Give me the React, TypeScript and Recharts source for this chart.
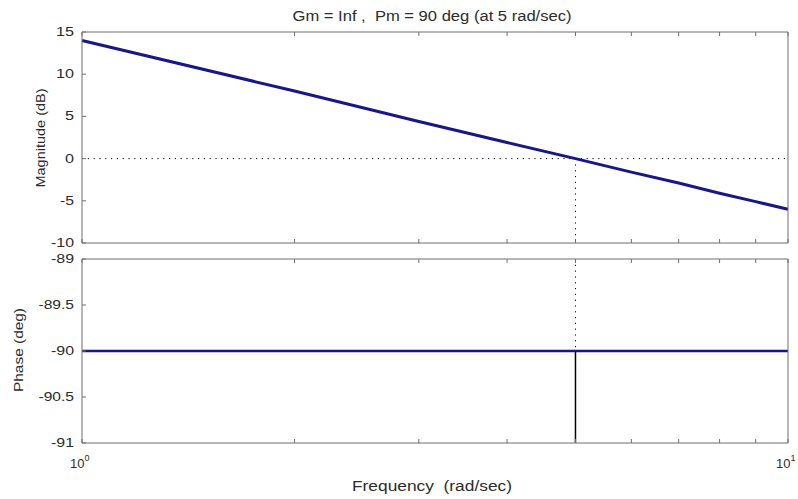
import React from 'react';
import { LineChart, Line, XAxis, YAxis, ReferenceLine } from 'recharts';

// ---- data ----
const frequencies = [1, 2, 3, 4, 5, 6, 7, 8, 9, 10];
const magnitudeDb = [14.0, 8.0, 4.4, 1.9, 0.0, -1.6, -2.9, -4.1, -5.1, -6.0];
const phaseDeg = [-90, -90, -90, -90, -90, -90, -90, -90, -90, -90];
const freqTicks = [1, 2, 3, 4, 5, 6, 7, 8, 9, 10];
const freqTickLabels: Record<number, [string, string]> = { 1: ['10', '0'], 10: ['10', '1'] };
const magTicks = [-10, -5, 0, 5, 10, 15];
const magDomain: [number, number] = [-10, 15];
const phaseTicks = [-91, -90.5, -90, -89.5, -89];
const phaseDomain: [number, number] = [-91, -89];
const crossoverFreq = 5;
const crossoverDb = 0;
const marginPhase = -90;
const titleText = 'Gm = Inf ,  Pm = 90 deg (at 5 rad/sec)';
const xLabelText = 'Frequency  (rad/sec)';
const magLabelText = 'Magnitude (dB)';
const phaseLabelText = 'Phase (deg)';

const magData = frequencies.map((f, i) => ({ f, v: magnitudeDb[i] }));
const phaseData = frequencies.map((f, i) => ({ f, v: phaseDeg[i] }));

const W = 798;
const H = 499;
const AXIS = '#6e6e6e';
const TXT = '#2b2b2b';
const LINE = '#17178a';
const FONT = '"Liberation Sans", Arial, sans-serif';
const TL = 4;

const labelLen = (s: string) => {
  let w = 0;
  for (const c of s) w += c === '-' ? 5 : c === '.' ? 3.5 : 9;
  return w;
};

const BottomXTick = (props: any) => {
  const { x, y, payload, showLabels } = props;
  const lbl = showLabels ? freqTickLabels[payload.value] : undefined;
  return (
    <g>
      <line x1={x} y1={y} x2={x} y2={y - TL} stroke={AXIS} />
      {lbl && (
        <text x={x - 12} y={y + 25} fill={TXT} fontSize={13} fontFamily={FONT}>
          <tspan>{lbl[0]}</tspan>
          <tspan dy={-7} fontSize={9}>{lbl[1]}</tspan>
        </text>
      )}
    </g>
  );
};

const TopXTick = (props: any) => {
  const { x, y } = props;
  return <line x1={x} y1={y} x2={x} y2={y + TL} stroke={AXIS} />;
};

const LeftYTick = (props: any) => {
  const { x, y, payload } = props;
  const s = String(payload.value);
  return (
    <g>
      <line x1={x} y1={y} x2={x + TL} y2={y} stroke={AXIS} />
      <text
        x={x - 8}
        y={y + 4}
        textAnchor="end"
        fill={TXT}
        fontSize={12}
        fontFamily={FONT}
        textLength={labelLen(s)}
        lengthAdjust="spacingAndGlyphs"
      >
        {s}
      </text>
    </g>
  );
};

const RightYTick = (props: any) => {
  const { x, y } = props;
  return <line x1={x} y1={y} x2={x - TL} y2={y} stroke={AXIS} />;
};

const axisCommon = {
  tickLine: false,
  tickSize: 0,
  tickMargin: 0,
  interval: 0 as const,
  axisLine: { stroke: AXIS, strokeWidth: 1 },
};

export default function App() {
  return (
    <div style={{ position: 'absolute', left: 0, top: 0, width: W, height: H, background: '#fff' }}>
      {/* Magnitude subplot */}
      <div style={{ position: 'absolute', left: 0, top: 0 }}>
        <LineChart width={W} height={H} data={magData} margin={{ top: 0, right: 0, bottom: 0, left: 0 }}>
          <XAxis
            dataKey="f"
            type="number"
            scale="log"
            domain={[1, 10]}
            ticks={freqTicks}
            height={H - 243}
            tick={(p: any) => <BottomXTick {...p} />}
            {...axisCommon}
          />
          <XAxis
            xAxisId="t"
            orientation="top"
            dataKey="f"
            type="number"
            scale="log"
            domain={[1, 10]}
            ticks={freqTicks}
            height={32}
            tick={(p: any) => <TopXTick {...p} />}
            {...axisCommon}
          />
          <YAxis
            type="number"
            domain={magDomain}
            ticks={magTicks}
            width={82}
            tick={(p: any) => <LeftYTick {...p} />}
            {...axisCommon}
          />
          <YAxis
            yAxisId="r"
            orientation="right"
            type="number"
            domain={magDomain}
            ticks={magTicks}
            width={10}
            tick={(p: any) => <RightYTick {...p} />}
            {...axisCommon}
          />
          <ReferenceLine y={crossoverDb} stroke="#000" strokeDasharray="1.2 4.6" />
          <ReferenceLine
            segment={[
              { x: crossoverFreq, y: crossoverDb },
              { x: crossoverFreq, y: magDomain[0] },
            ]}
            stroke="#000"
            strokeDasharray="1.2 4.6"
          />
          <Line
            dataKey="v"
            type="linear"
            stroke={LINE}
            strokeWidth={3}
            dot={false}
            activeDot={false}
            isAnimationActive={false}
          />
        </LineChart>
      </div>

      {/* Phase subplot */}
      <div style={{ position: 'absolute', left: 0, top: 0 }}>
        <LineChart width={W} height={H} data={phaseData} margin={{ top: 0, right: 0, bottom: 0, left: 0 }}>
          <XAxis
            dataKey="f"
            type="number"
            scale="log"
            domain={[1, 10]}
            ticks={freqTicks}
            height={H - 443}
            tick={(p: any) => <BottomXTick {...p} showLabels />}
            {...axisCommon}
          />
          <XAxis
            xAxisId="t"
            orientation="top"
            dataKey="f"
            type="number"
            scale="log"
            domain={[1, 10]}
            ticks={freqTicks}
            height={259}
            tick={(p: any) => <TopXTick {...p} />}
            {...axisCommon}
          />
          <YAxis
            type="number"
            domain={phaseDomain}
            ticks={phaseTicks}
            width={82}
            tick={(p: any) => <LeftYTick {...p} />}
            {...axisCommon}
          />
          <YAxis
            yAxisId="r"
            orientation="right"
            type="number"
            domain={phaseDomain}
            ticks={phaseTicks}
            width={10}
            tick={(p: any) => <RightYTick {...p} />}
            {...axisCommon}
          />
          <ReferenceLine
            segment={[
              { x: crossoverFreq, y: phaseDomain[1] },
              { x: crossoverFreq, y: marginPhase },
            ]}
            stroke="#000"
            strokeDasharray="1.2 4.6"
          />
          <ReferenceLine
            segment={[
              { x: crossoverFreq, y: marginPhase },
              { x: crossoverFreq, y: phaseDomain[0] },
            ]}
            stroke="#000"
            strokeWidth={1.5}
          />
          <Line
            dataKey="v"
            type="linear"
            stroke={LINE}
            strokeWidth={2.5}
            dot={false}
            activeDot={false}
            isAnimationActive={false}
          />
        </LineChart>
      </div>

      {/* Titles and axis labels */}
      <svg
        width={W}
        height={H}
        style={{ position: 'absolute', left: 0, top: 0, pointerEvents: 'none' }}
        fontFamily={FONT}
      >
        <text
          x={432}
          y={21}
          textAnchor="middle"
          fontSize={14}
          fill={TXT}
          textLength={279}
          lengthAdjust="spacingAndGlyphs"
          style={{ whiteSpace: 'pre' }}
        >
          {titleText}
        </text>
        <text
          x={432}
          y={491}
          textAnchor="middle"
          fontSize={14}
          fill={TXT}
          textLength={160}
          lengthAdjust="spacingAndGlyphs"
          style={{ whiteSpace: 'pre' }}
        >
          {xLabelText}
        </text>
        <text
          x={0}
          y={0}
          transform="translate(45,138) rotate(-90)"
          textAnchor="middle"
          fontSize={13}
          fill={TXT}
          textLength={99}
          lengthAdjust="spacingAndGlyphs"
        >
          {magLabelText}
        </text>
        <text
          x={0}
          y={0}
          transform="translate(23,350) rotate(-90)"
          textAnchor="middle"
          fontSize={13}
          fill={TXT}
          textLength={84}
          lengthAdjust="spacingAndGlyphs"
        >
          {phaseLabelText}
        </text>
      </svg>
    </div>
  );
}
